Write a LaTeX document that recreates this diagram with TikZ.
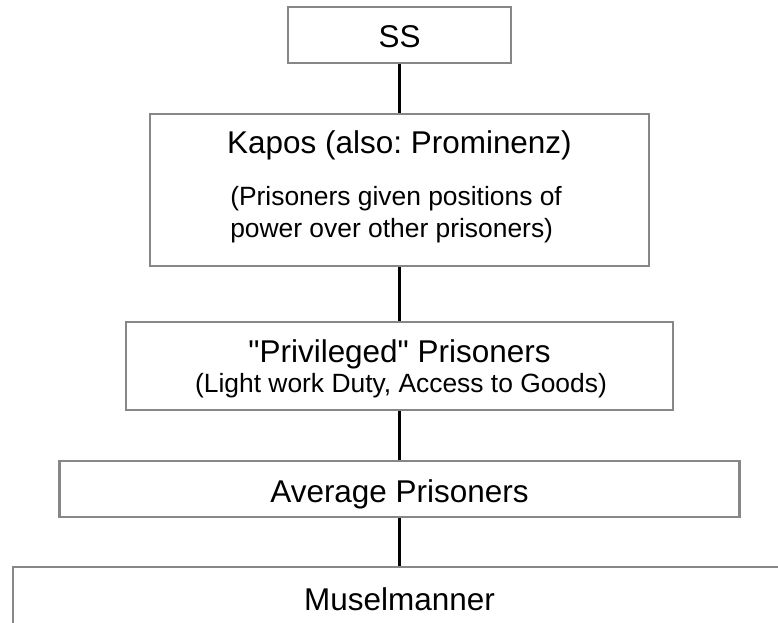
\documentclass[tikz,border=0pt]{standalone}
\usepackage{fontspec}
\setmainfont{Liberation Sans}[Ligatures=TeXOff]
\frenchspacing
\definecolor{boxgray}{gray}{0.53}
\begin{document}
\begin{tikzpicture}[x=0.75pt, y=-0.75pt,
  box/.style 2 args={draw=boxgray, line width=2pt, fill=white, inner sep=0pt,
    minimum width=#1*0.75pt, minimum height=#2*0.75pt},
  link/.style={draw=black, line width=2pt},
  title/.style={font=\fontsize{23.6}{28}\selectfont, inner sep=0pt, anchor=base},
  sub/.style={font=\fontsize{19.8}{24}\selectfont, inner sep=0pt}]
  \useasboundingbox (0,0) rectangle (778,622);
  \clip (0,0) rectangle (778,622);
  \fill[white] (0,0) rectangle (778,622);

  % hierarchy boxes
  \node[box={223}{56}]  (ss)    at (399.5,35)    {};
  \node[box={499}{152}] (kapos) at (399.5,190)   {};
  \node[box={547}{88}]  (priv)  at (399.5,366)   {};
  \node[box={680}{56}]  (avg)   at (399.5,489)   {};
  \node[box={787}{93}]  (musel) at (406.5,613.5) {};

  % links between levels
  \draw[link] (ss.south) -- (kapos.north);
  \draw[link] (kapos.south) -- (priv.north);
  \draw[link] (priv.south) -- (avg.north);
  \draw[link] (avg.south) -- (avg.south |- musel.north);

  % labels
  \node[title] (ssT) at (399.5,47) {SS};
  \node[title] (kaposT) at (399.5,153) {Kapos (also: Prominenz)};
  \node[sub, anchor=base west] (kaposA) at (230,205) {(Prisoners given positions of};
  \node[sub, anchor=base west] (kaposB) at (230,237) {power over other prisoners)};
  \node[title] (privT) at (399.5,362) {"Privileged" Prisoners};
  \node[sub, anchor=base] (privS) at (401,392) {(Light work Duty, Access to Goods)};
  \node[title] (avgT) at (399.5,502) {Average Prisoners};
  \node[title] (muselT) at (399.5,610) {Muselmanner};
\end{tikzpicture}
\end{document}
